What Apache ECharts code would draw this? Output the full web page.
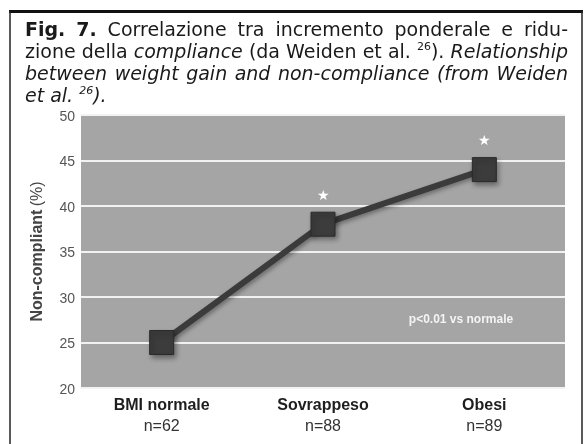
<!DOCTYPE html>
<html>
<head>
<meta charset="utf-8">
<script src="https://cdn.jsdelivr.net/npm/echarts@6/dist/echarts.min.js"></script>
<style>
html,body{margin:0;padding:0;background:#fff;}
#c{width:586px;height:444px;}
</style>
</head>
<body>
<div id="c"></div>
<script>
// ---- data ----
const categories = ['BMI normale', 'Sovrappeso', 'Obesi'];
const sampleSizes = ['n=62', 'n=88', 'n=89'];
const nonCompliant = [25, 38, 44];
const significant = [false, true, true];
const yTicks = [20, 25, 30, 35, 40, 45, 50];
const yAxisName = ['Non-compliant', '(%)'];
const noteText = 'p<0.01 vs normale';
const titleLines = [
  [['Fig. 7.', 'b'], [' Correlazione tra incremento ponderale e ridu-', 'n']],
  [['zione della ', 'n'], ['compliance', 'i'], [' (da Weiden et al. ', 'n'], ['26', 'sup'], ['). ', 'n'], ['Relationship', 'i']],
  [['between weight gain and non-compliance (from Weiden', 'i']],
  [['et al. ', 'i'], ['26', 'isup'], [').', 'i']]
];

// ---- title layout (justified text) ----
const FONT = "'DejaVu Sans'";
const TS = 19;
const styles = {
  n: {fontSize: TS, fontWeight: 'normal', fontStyle: 'normal', dy: 0},
  b: {fontSize: TS, fontWeight: 'bold', fontStyle: 'normal', dy: 0},
  i: {fontSize: TS, fontWeight: 'normal', fontStyle: 'italic', dy: 0},
  sup: {fontSize: 11, fontWeight: 'normal', fontStyle: 'normal', dy: -6},
  isup: {fontSize: 11, fontWeight: 'normal', fontStyle: 'italic', dy: -6}
};
const ctx = document.createElement('canvas').getContext('2d');
function measure(t, s) {
  const st = styles[s];
  ctx.font = st.fontStyle + ' ' + st.fontWeight + ' ' + st.fontSize + 'px ' + FONT;
  return ctx.measureText(t).width;
}
function toWords(segs) {
  const words = [[]];
  segs.forEach(([t, s]) => {
    const parts = t.split(' ');
    parts.forEach((p, i) => {
      if (i > 0) words.push([]);
      if (p) words[words.length - 1].push([p, s]);
    });
  });
  return words.filter(w => w.length);
}
const textLeft = 25, textRight = 568;
const baselines = [38, 60, 82, 104];
const titleEls = [];
titleLines.forEach((line, li) => {
  const words = toWords(line);
  const widths = words.map(w => w.reduce((a, [t, s]) => a + measure(t, s), 0));
  const total = widths.reduce((a, b) => a + b, 0);
  const justify = li < titleLines.length - 1;
  const gap = justify ? (textRight - textLeft - total) / (words.length - 1) : measure(' ', 'i');
  let x = textLeft;
  words.forEach((w, wi) => {
    let sx = x;
    w.forEach(([t, s]) => {
      const st = styles[s];
      titleEls.push({
        type: 'text', x: sx, y: baselines[li] - 7 + st.dy,
        style: {text: t, fontSize: st.fontSize, fontWeight: st.fontWeight, fontStyle: st.fontStyle,
          fontFamily: FONT, fill: '#1a1a1a', verticalAlign: 'middle', align: 'left'}
      });
      sx += measure(t, s);
    });
    x += widths[wi] + gap;
  });
});

const chart = echarts.init(document.getElementById('c'), null, {renderer: 'canvas'});
const seriesData = nonCompliant.map((v, i) => ({
  value: v,
  label: {show: significant[i]}
}));

chart.setOption({
  backgroundColor: '#ffffff',
  animation: false,
  grid: {left: 81, right: 21, top: 115, bottom: 56, show: true, backgroundColor: '#a5a5a5', borderWidth: 0},
  xAxis: {
    type: 'category', data: categories, boundaryGap: true,
    axisLine: {show: false}, axisTick: {show: false}, splitLine: {show: false},
    axisLabel: {
      margin: 7, interval: 0,
      formatter: (v, i) => '{b|' + v + '}\n{n|' + sampleSizes[i] + '}',
      rich: {
        b: {fontFamily: 'Liberation Sans', fontWeight: 'bold', fontSize: 16, color: '#1e1e1e', lineHeight: 21},
        n: {fontFamily: 'Liberation Sans', fontSize: 16, color: '#333', lineHeight: 21}
      }
    }
  },
  yAxis: {
    type: 'value', min: yTicks[0], max: yTicks[yTicks.length - 1], interval: yTicks[1] - yTicks[0],
    axisLine: {show: false}, axisTick: {show: false},
    axisLabel: {margin: 6, fontFamily: "'Liberation Sans Narrow', 'Liberation Sans'", fontSize: 14, color: '#555', verticalAlign: 'top', padding: [-5, 0, 0, 0]},
    splitLine: {show: true, lineStyle: {color: '#f2f2f2', width: 2}},
    name: '{b|' + yAxisName[0] + '} {n|' + yAxisName[1] + '}',
    nameLocation: 'middle', nameRotate: 90, nameGap: 35,
    nameTextStyle: {
      rich: {
        b: {fontFamily: 'Liberation Sans', fontWeight: 'bold', fontSize: 16, color: '#444'},
        n: {fontFamily: 'Liberation Sans', fontSize: 16, color: '#444'}
      }
    }
  },
  series: [{
    type: 'line', data: seriesData,
    symbol: 'rect', symbolSize: 24,
    lineStyle: {color: '#3b3b3b', width: 6, shadowColor: 'rgba(0,0,0,0.35)', shadowBlur: 4, shadowOffsetX: 2, shadowOffsetY: 2},
    itemStyle: {color: '#3c3c3c', borderColor: '#2a2a2a', borderWidth: 1, shadowColor: 'rgba(0,0,0,0.4)', shadowBlur: 5, shadowOffsetX: 2, shadowOffsetY: 3},
    label: {show: false, formatter: '★', position: 'top', distance: 9, color: '#ffffff', fontSize: 14},
    emphasis: {disabled: true},
    z: 3
  }],
  graphic: [
    {type: 'rect', shape: {x: 9, y: 10, width: 574, height: 3}, style: {fill: '#111'}},
    {type: 'line', shape: {x1: 10, y1: 11, x2: 10, y2: 444}, style: {stroke: '#222', lineWidth: 1.5}},
    {type: 'line', shape: {x1: 582, y1: 11, x2: 582, y2: 444}, style: {stroke: '#222', lineWidth: 1.5}},
    {type: 'text', x: 461, y: 320, style: {text: noteText, fontFamily: "'Liberation Sans Narrow', 'Liberation Sans'", fontWeight: 'bold', fontSize: 12, fill: '#f4f4f4', align: 'center', verticalAlign: 'middle'}}
  ].concat(titleEls)
});
</script>
</body>
</html>
